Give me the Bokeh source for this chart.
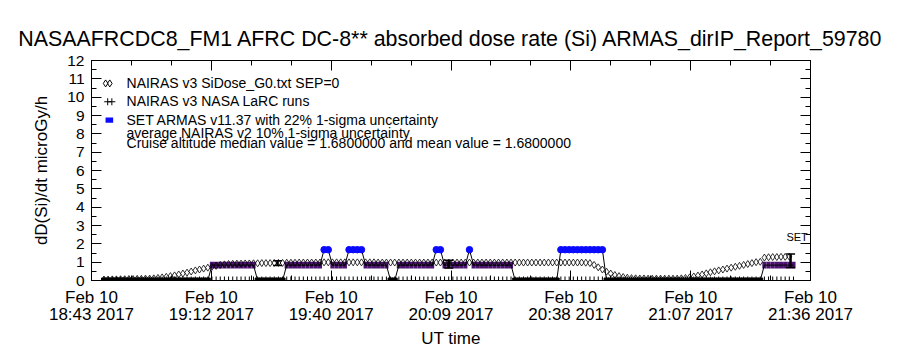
import pandas as pd
from bokeh.plotting import figure
from bokeh.models import (Range1d, FixedTicker, DatetimeAxis, LinearAxis,
                          DatetimeTickFormatter, Label, CustomJSTickFormatter)
from bokeh.embed import file_html
from bokeh.resources import INLINE

# ---------------- data ----------------
title_text = "NASAAFRCDC8_FM1 AFRC DC-8** absorbed dose rate (Si) ARMAS_dirIP_Report_59780"
y_label = "dD(Si)/dt microGy/h"
x_label = "UT time"

axis_start = "2017-02-10 18:43:12"
axis_end = "2017-02-10 21:36:18"
tick_times = ["2017-02-10 18:43:12", "2017-02-10 19:12:03", "2017-02-10 19:40:54",
              "2017-02-10 20:09:45", "2017-02-10 20:38:36", "2017-02-10 21:07:27",
              "2017-02-10 21:36:18"]
y_ticks = [0, 1, 2, 3, 4, 5, 6, 7, 8, 9, 10, 11, 12]

# SET ARMAS samples, 1-minute cadence starting at armas_start
armas_start = "2017-02-10 18:46:12"
armas_vals = [
    0, 0, 0, 0, 0, 0, 0, 0, 0, 0, 0, 0, 0, 0, 0, 0, 0, 0, 0, 0, 0, 0, 0, 0, 0, 0,
    0.84, 0.84, 0.84, 0.84, 0.84, 0.84, 0.84, 0.84, 0.84, 0.84, 0.84,
    0, 0, 0, 0, 0, 0, 0,
    0.84, 0.84, 0.84, 0.84, 0.84, 0.84, 0.84, 0.84, 0.84,
    1.68, 1.68,
    0.84, 0.84, 0.84, 0.84,
    1.68, 1.68, 1.68, 1.68,
    0.84, 0.84, 0.84, 0.84, 0.84, 0.84,
    0, 0,
    0.84, 0.84, 0.84, 0.84, 0.84, 0.84, 0.84, 0.84, 0.84,
    1.68, 1.68,
    0.84, 0.84, 0.84, 0.84, 0.84, 0.84,
    1.68,
    0.84, 0.84, 0.84, 0.84, 0.84, 0.84, 0.84, 0.84, 0.84, 0.84,
    0, 0, 0, 0, 0, 0, 0, 0, 0, 0, 0,
    1.68, 1.68, 1.68, 1.68, 1.68, 1.68, 1.68, 1.68, 1.68, 1.68, 1.68,
    0, 0, 0, 0, 0, 0, 0, 0, 0, 0, 0, 0, 0, 0, 0, 0, 0, 0, 0,
    0, 0, 0, 0, 0, 0, 0, 0, 0, 0, 0, 0, 0, 0, 0, 0, 0, 0, 0,
    0.84, 0.84, 0.84, 0.84, 0.84, 0.84, 0.84, 0.84,
]
armas_sigma = 0.22

# NAIRAS v3 SiDose_G0 model, 1-minute cadence starting at nairas_start
nairas_start = "2017-02-10 18:46:12"
nairas_vals = [
    0.05, 0.05, 0.06, 0.06, 0.07, 0.07, 0.08, 0.08, 0.09, 0.09, 0.10, 0.10,
    0.12, 0.14, 0.17, 0.20, 0.24, 0.28, 0.33, 0.38, 0.43, 0.49, 0.55, 0.60,
    0.65, 0.70, 0.75, 0.80, 0.85, 0.88,
    0.90, 0.91, 0.92, 0.92, 0.93, 0.93, 0.94, 0.94, 0.95, 0.95, 0.95, 0.96, 0.96, 0.96,
    0.97, 0.97, 0.97, 0.98, 0.98, 0.98, 0.98, 0.98, 0.98, 0.99,
    0.99, 0.99, 0.99, 0.99, 0.99, 0.99, 0.99, 0.99, 0.99, 0.99,
    0.99, 0.99, 0.98, 0.98, 0.98, 0.98, 0.98, 0.98, 0.98, 0.98,
    0.98, 0.98, 0.98, 0.98, 0.98, 0.98, 0.98, 0.98, 0.98, 0.98,
    0.98, 0.98, 0.98, 0.98, 0.98, 0.98, 0.98, 0.98, 0.98, 0.98,
    0.98, 0.98, 0.98, 0.98, 0.98, 0.98, 0.98, 0.98, 0.98, 0.98,
    0.98, 0.98, 0.98, 0.98, 0.98, 0.98, 0.98, 0.98, 0.98, 0.98,
    0.98, 0.98, 0.97,
    0.95, 0.85, 0.72, 0.60, 0.48, 0.38, 0.30, 0.24, 0.19, 0.15, 0.13,
    0.12, 0.11, 0.11, 0.10, 0.10, 0.10, 0.10, 0.10, 0.10, 0.10, 0.10,
    0.12, 0.14, 0.17, 0.22, 0.27, 0.33, 0.39, 0.45, 0.50, 0.55, 0.60,
    0.65, 0.70, 0.75, 0.80, 0.85, 0.90, 0.95, 1.00, 1.02, 1.25, 1.27,
    1.28, 1.28, 1.29, 1.29, 1.30,
]

# NAIRAS v3 NASA LaRC runs (at zero on the ARMAS timeline)
larc_vals = [0.0] * len(armas_vals)

# error bars (I-beams)
eb_times = ["2017-02-10 19:28:00", "2017-02-10 20:09:12", "2017-02-10 21:31:30"]
eb_lo = [0.82, 0.68, 0.71]
eb_hi = [1.08, 1.11, 1.44]

legend_texts = ["NAIRAS v3 SiDose_G0.txt SEP=0",
                "NAIRAS v3 NASA LaRC runs",
                "SET ARMAS v11.37 with 22% 1-sigma uncertainty",
                "average NAIRAS v2 10% 1-sigma uncertainty",
                "Cruise altitude median value = 1.6800000 and mean value = 1.6800000"]
legend_text_y = [10.80, 9.77, 8.73, 8.02, 7.48]
legend_text_time = "2017-02-10 18:51:38"

FONT = "Liberation Sans"
BLUE = "#0a0aff"
PURPLE = "#4c1470"


def ms(ts):
    return pd.Timestamp(ts).value / 1e6


armas_t = pd.date_range(armas_start, periods=len(armas_vals), freq="1min")
nairas_t = pd.date_range(nairas_start, periods=len(nairas_vals), freq="1min")

major = [ms(t) for t in tick_times]
minor = []
for a, b in zip(major[:-1], major[1:]):
    minor += [a, a + (b - a) / 3, a + 2 * (b - a) / 3]
minor.append(major[-1])

p = figure(frame_width=719, frame_height=220, output_backend="svg", toolbar_location=None,
           x_axis_type="datetime",
           x_range=Range1d(ms(axis_start), ms(axis_end)),
           y_range=Range1d(0, 12),
           min_border_left=91, min_border_right=90, min_border_top=60,
           min_border_bottom=70)
p.background_fill_color = "white"
p.border_fill_color = "white"
p.outline_line_color = "black"
p.xgrid.visible = False
p.ygrid.visible = False

p.title.text = title_text
p.title.text_font = FONT
p.title.text_font_size = "21.4px"
p.title.text_font_style = "normal"
p.title.text_color = "black"
p.title.align = "center"
p.title.standoff = 19


def dt_fmt(fmt):
    return DatetimeTickFormatter(microseconds=fmt, milliseconds=fmt, seconds=fmt,
                                 minsec=fmt, minutes=fmt, hourmin=fmt, hours=fmt,
                                 days=fmt, months=fmt, years=fmt)


blank = CustomJSTickFormatter(code="return '';")
xt = FixedTicker(ticks=major, minor_ticks=minor)
yt = FixedTicker(ticks=y_ticks, minor_ticks=[v / 2 for v in range(0, 25)])


def style(ax):
    ax.major_tick_in = 10
    ax.major_tick_out = 0
    ax.minor_tick_in = 5
    ax.minor_tick_out = 0
    ax.axis_line_color = "black"
    ax.major_tick_line_color = "black"
    ax.minor_tick_line_color = "black"
    ax.major_label_text_color = "black"
    ax.major_label_text_font = FONT
    ax.axis_label_text_font = FONT
    ax.axis_label_text_font_style = "normal"
    ax.axis_label_text_color = "black"


# bottom axis: first label row (date)
xa = p.xaxis[0]
xa.ticker = xt
xa.formatter = dt_fmt("%b %d")
style(xa)
xa.major_label_text_font_size = "17px"
xa.major_label_standoff = 7

# second label row (time + year) with axis title
xb = DatetimeAxis(ticker=xt, formatter=dt_fmt("%H:%M %Y"))
style(xb)
xb.axis_line_color = None
xb.major_tick_line_color = None
xb.minor_tick_line_color = None
xb.major_tick_in = 0
xb.minor_tick_in = 0
xb.major_label_text_font_size = "17px"
xb.major_label_standoff = -5
xb.axis_label = x_label
xb.axis_label_text_font_size = "17px"
xb.axis_label_standoff = 2
p.add_layout(xb, "below")

ya = p.yaxis[0]
ya.ticker = yt
style(ya)
ya.major_label_text_font_size = "15.5px"
ya.major_label_standoff = 7
ya.axis_label = y_label
ya.axis_label_text_font_size = "17px"
ya.axis_label_standoff = 13

top = DatetimeAxis(ticker=xt, formatter=blank)
style(top)
top.major_label_standoff = 0
p.add_layout(top, "above")

right = LinearAxis(ticker=yt, formatter=blank)
style(right)
right.major_label_standoff = 0
p.add_layout(right, "right")

# ---------------- glyphs ----------------
# LaRC runs (plus symbols at zero)
p.scatter(armas_t, larc_vals, marker="cross", size=8, line_color="black", line_width=1)

# ARMAS zero values
zt = [t for t, v in zip(armas_t, armas_vals) if v == 0]
zv = [v for v in armas_vals if v == 0]
p.scatter(zt, zv, marker="square", size=5, color="black")

# ARMAS 1-sigma band for 0.84 points
lt = [t for t, v in zip(armas_t, armas_vals) if v == 0.84]
lv = [v for v in armas_vals if v == 0.84]
p.rect(lt, lv, width=60000, height=[2 * armas_sigma * v for v in lv],
       fill_color=PURPLE, line_color=None)

# NAIRAS diamonds
p.scatter(nairas_t, nairas_vals, marker="diamond", size=7, fill_color=None,
          line_color="black", line_width=0.8)

# ARMAS connecting line
p.line(armas_t, armas_vals, line_color="black", line_width=1)

# ARMAS high points (blue)
ht = [t for t, v in zip(armas_t, armas_vals) if v == 1.68]
hv = [v for v in armas_vals if v == 1.68]
p.scatter(ht, hv, marker="circle", size=6.5, fill_color=BLUE, line_color=BLUE)

# error bars
ebt = [pd.Timestamp(t) for t in eb_times]
p.segment(ebt, eb_lo, ebt, eb_hi, line_color="black", line_width=2.5)
p.scatter(ebt, eb_lo, marker="dash", size=9, line_color="black", line_width=1.5)
p.scatter(ebt, eb_hi, marker="dash", size=9, line_color="black", line_width=1.5)

p.add_layout(Label(x=ms("2017-02-10 21:30:30"), y=2.35, text="SET", text_font=FONT,
                   text_font_size="11px", text_color="black", text_baseline="alphabetic"))

# legend symbols
p.scatter([pd.Timestamp("2017-02-10 18:46:36"), pd.Timestamp("2017-02-10 18:47:36")],
          [10.75, 10.75], marker="diamond", size=7, fill_color=None, line_color="black")
p.scatter([pd.Timestamp("2017-02-10 18:47:06"), pd.Timestamp("2017-02-10 18:48:06")],
          [9.75, 9.75], marker="cross", size=7, line_color="black")
p.rect([pd.Timestamp("2017-02-10 18:47:30")], [8.75], width=110000, height=0.28,
       fill_color=BLUE, line_color=None)

for txt, yy in zip(legend_texts, legend_text_y):
    p.add_layout(Label(x=ms(legend_text_time), y=yy, text=txt, text_font=FONT,
                       text_font_size="14px", text_color="black",
                       text_baseline="alphabetic"))

open("out.html", "w").write(file_html(p, INLINE))
